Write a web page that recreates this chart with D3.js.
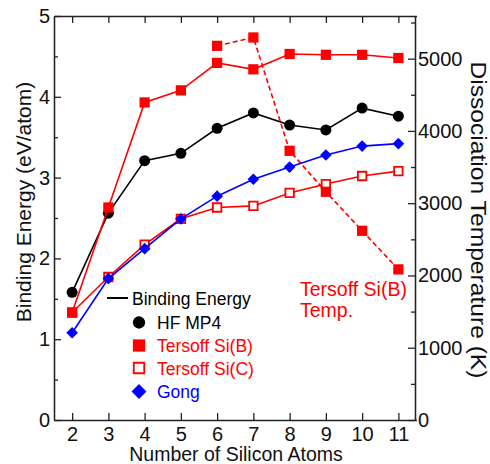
<!DOCTYPE html>
<meta charset="utf-8">
<title>Binding Energy and Dissociation Temperature</title>
<script src="https://d3js.org/d3.v7.min.js"></script>
<style>
    body { margin: 0; background: white; }
    text { font-family: 'Liberation Sans', Arial, Helvetica, sans-serif; }
    .axis path, .axis line { stroke: #222; stroke-width: 1.3px; }
    .axis text { font-size: 20px; fill: #111; }
    text.title { font-size: 20px; fill: #111; }
    text.legend { font-size: 17.5px; }
</style>
<div id="chart"></div>
<script>
// values
var atoms = [2, 3, 4, 5, 6, 7, 8, 9, 10, 11];
var hfMp4 = [1.58, 2.56, 3.21, 3.30, 3.61, 3.80, 3.65, 3.59, 3.86, 3.76];
var tersoffB = [1.33, 2.63, 3.93, 4.08, 4.42, 4.34, 4.53, 4.52, 4.52, 4.48];
var tersoffC = [1.33, 1.77, 2.17, 2.49, 2.63, 2.65, 2.81, 2.92, 3.02, 3.08];
var gong = [1.08, 1.75, 2.12, 2.49, 2.77, 2.98, 3.13, 3.28, 3.39, 3.42];
var tempAtoms = [6, 7, 8, 9, 10, 11];
var tersoffBTemp = [5177, 5293, 3725, 3158, 2618, 2084];

var energyTicks = [0, 1, 2, 3, 4, 5];
var energyMinor = [0.5, 1.5, 2.5, 3.5, 4.5];
var tempTicks = [0, 1000, 2000, 3000, 4000, 5000];
var tempMinor = [500, 1500, 2500, 3500, 4500, 5500];

var W = 490, H = 464;
var plotL = 54, plotR = 415, plotT = 16, plotB = 420;

var svg = d3.select("#chart").append("svg")
    .attr("width", W)
    .attr("height", H);

var x = d3.scaleLinear().domain([1.5, 11.5]).range([plotL, plotR + 1.5]);
var y = d3.scaleLinear().domain([0, 5]).range([plotB, plotT]);
var yT = d3.scaleLinear().domain([0, 5590]).range([plotB, plotT]);

// axes, ticks inside
svg.append("g").attr("class", "axis")
    .attr("transform", "translate(0," + plotB + ")")
    .call(d3.axisBottom(x).tickValues(atoms).tickFormat(d3.format("d"))
        .tickSizeInner(-7).tickSizeOuter(0).tickPadding(7));
svg.append("g").attr("class", "axis")
    .attr("transform", "translate(0," + plotT + ")")
    .call(d3.axisTop(x).tickValues(atoms).tickSizeInner(-7).tickSizeOuter(0).tickFormat(""));

svg.append("g").attr("class", "axis")
    .attr("transform", "translate(" + plotL + ",0)")
    .call(d3.axisLeft(y).tickValues(energyTicks).tickFormat(d3.format("d"))
        .tickSizeInner(-7).tickSizeOuter(0).tickPadding(4));
svg.append("g").attr("class", "axis")
    .attr("transform", "translate(" + plotL + ",0)")
    .call(d3.axisLeft(y).tickValues(energyMinor).tickSizeInner(-4).tickSizeOuter(0).tickFormat(""));

svg.append("g").attr("class", "axis")
    .attr("transform", "translate(" + plotR + ",0)")
    .call(d3.axisRight(yT).tickValues(tempTicks).tickFormat(d3.format("d"))
        .tickSizeInner(-7).tickSizeOuter(0).tickPadding(3));
svg.append("g").attr("class", "axis")
    .attr("transform", "translate(" + plotR + ",0)")
    .call(d3.axisRight(yT).tickValues(tempMinor).tickSizeInner(-4).tickSizeOuter(0).tickFormat(""));

// axis titles
svg.append("text")
    .attr("class", "title")
    .attr("x", 236)
    .attr("y", 461)
    .attr("text-anchor", "middle")
    .style("font-size", "19.5px")
    .text("Number of Silicon Atoms");

svg.append("text")
    .attr("class", "title")
    .attr("transform", "translate(31,202) rotate(-90)")
    .attr("text-anchor", "middle")
    .style("font-size", "21px")
    .text("Binding Energy (eV/atom)");

svg.append("text")
    .attr("class", "title")
    .attr("transform", "translate(471,220) rotate(90)")
    .attr("text-anchor", "middle")
    .style("font-size", "22px")
    .attr("textLength", 317)
    .attr("lengthAdjust", "spacingAndGlyphs")
    .text("Dissociation Temperature (K)");

// helpers
function pts(xs, ys) { return xs.map(function(d, i) { return [d, ys[i]]; }); }

function drawLine(data, scaleY, color, dash) {
    svg.append("path")
        .datum(data)
        .attr("fill", "none")
        .attr("stroke", color)
        .attr("stroke-width", 1.6)
        .attr("stroke-dasharray", dash || null)
        .attr("d", d3.line()
            .x(function(d) { return x(d[0]); })
            .y(function(d) { return scaleY(d[1]); }));
}

function drawMarks(data, scaleY, symbol, size, fill, stroke) {
    svg.selectAll(null)
        .data(data)
        .enter()
        .append("path")
        .attr("transform", function(d) { return "translate(" + x(d[0]) + "," + scaleY(d[1]) + ")"; })
        .attr("d", d3.symbol().type(symbol).size(size))
        .attr("fill", fill)
        .attr("stroke", stroke)
        .attr("stroke-width", fill == "white" ? 1.8 : 0);
}

var diamond = {
    draw: function(ctx, size) {
        var r = Math.sqrt(size / 2);
        ctx.moveTo(0, -r); ctx.lineTo(r, 0); ctx.lineTo(0, r); ctx.lineTo(-r, 0); ctx.closePath();
    }
};

// HF MP4
drawLine(pts(atoms, hfMp4), y, "black");
drawMarks(pts(atoms, hfMp4), y, d3.symbolCircle, 95, "black", "black");

// Tersoff Si(B) and Si(C)
drawLine(pts(atoms, tersoffB), y, "red");
drawLine(pts(atoms, tersoffC), y, "red");
drawMarks(pts(atoms, tersoffC), y, d3.symbolSquare, 72, "white", "red");
drawMarks(pts(atoms, tersoffB), y, d3.symbolSquare, 105, "red", "red");

// Tersoff Si(B) dissociation temperature
drawLine(pts(tempAtoms, tersoffBTemp), yT, "red", "5,3");
drawMarks(pts(tempAtoms, tersoffBTemp), yT, d3.symbolSquare, 105, "red", "red");

// Gong
drawLine(pts(atoms, gong), y, "blue");
drawMarks(pts(atoms, gong), y, diamond, 68, "blue", "blue");

// annotation
svg.append("text").attr("x", 300).attr("y", 296)
    .style("font-size", "19.5px").attr("fill", "red").text("Tersoff Si(B)");
svg.append("text").attr("x", 300).attr("y", 317)
    .style("font-size", "19.5px").attr("fill", "red").text("Temp.");

// legend
svg.append("line")
    .attr("x1", 107).attr("x2", 128)
    .attr("y1", 298).attr("y2", 298)
    .attr("stroke", "black").attr("stroke-width", 2);
svg.append("text").attr("class", "legend").attr("x", 132).attr("y", 305).text("Binding Energy");

var legendRows = [
    {label: "HF MP4", color: "black", sym: d3.symbolCircle, size: 120, fill: "black", y: 322.5},
    {label: "Tersoff Si(B)", color: "red", sym: d3.symbolSquare, size: 150, fill: "red", y: 345.5},
    {label: "Tersoff Si(C)", color: "red", sym: d3.symbolSquare, size: 110, fill: "white", y: 368},
    {label: "Gong", color: "blue", sym: diamond, size: 110, fill: "blue", y: 391.5}
];
legendRows.forEach(function(r) {
    svg.append("path")
        .attr("transform", "translate(139," + r.y + ")")
        .attr("d", d3.symbol().type(r.sym).size(r.size))
        .attr("fill", r.fill)
        .attr("stroke", r.color)
        .attr("stroke-width", r.fill == "white" ? 1.8 : 0);
    svg.append("text").attr("class", "legend")
        .attr("x", 157).attr("y", r.y + 6.5)
        .attr("fill", r.color)
        .text(r.label);
});
</script>
